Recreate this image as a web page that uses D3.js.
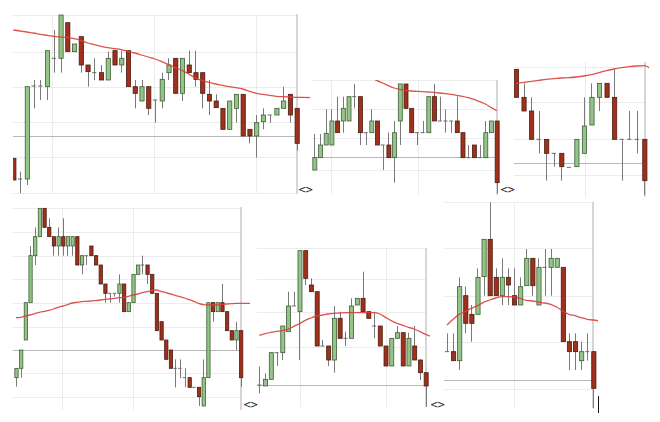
<!DOCTYPE html>
<html><head><meta charset="utf-8">
<script src="https://cdn.jsdelivr.net/npm/d3@7/dist/d3.min.js"></script>
<style>body{margin:0;background:#fff}svg{display:block}</style>
</head><body><svg id="c" width="660" height="422"></svg>
<script>
// Candles: [open, high, low, close]
const p1Candles = [[125,125,60,60],[63,85,20,63],[63,340,45,340],[342,360,275,342],[342,360,300,342],[340,448,300,448],[425,510,382,425],[425,555,382,555],[532,532,445,445],[445,468,445,468],[490,490,382,405],[405,405,340,385],[382,425,360,382],[382,405,360,360],[360,445,360,425],[448,448,405,405],[405,448,382,425],[448,448,340,340],[340,360,275,320],[297,360,297,340],[340,340,255,275],[300,300,232,300],[297,382,275,362],[382,425,360,405],[425,425,320,320],[320,425,297,425],[405,448,382,382],[382,448,340,362],[382,382,275,320],[317,360,255,297],[297,317,277,277],[275,275,212,212],[212,297,212,297],[275,317,232,317],[317,317,192,192],[212,212,170,192],[192,255,127,232],[235,275,212,255],[255,255,232,255],[255,275,255,275],[275,340,275,297],[317,317,232,255],[275,275,148,170]];
const p1MA = [510,507,504,501,497,494,491,489,487,484,479,471,466,461,457,454,451,446,441,435,429,423,415,406,397,389,378,366,358,353,348,344,340,337,333,326,320,317,314,311,310,309,308,308,307];
const p1Grid = [555,445,340,235,130,22];
const p1Ref = 192;
const p1VGrid = [5.73,20.85,35.97];

const p2Candles = [[270,378,270,307],[307,378,307,345],[345,452,345,380],[345,452,345,417],[417,490,382,382],[417,490,382,455],[417,490,417,490],[490,528,455,490],[490,490,345,382],[382,382,345,382],[382,452,382,417],[417,417,345,345],[345,345,270,345],[345,382,307,307],[307,417,232,382],[417,528,345,528],[528,528,455,455],[455,455,382,382],[382,382,345,382],[382,417,382,382],[382,490,382,490],[490,528,417,417],[417,490,417,417],[417,452,382,417],[417,417,382,417],[417,490,382,382],[382,382,307,307],[307,345,307,307],[345,345,307,307],[307,345,307,307],[307,417,307,382],[382,417,382,417],[417,417,200,232]];
const p2MA = [null,null,null,null,null,null,null,null,null,null,548,538,531,523,516,512,509,507,506,505,504,503,501,499,497,494,491,487,482,475,468,458,448];
const p2Grid = [540,452,365,270];
const p2Ref = 310;
const p2VGrid = [2.93,18.25];

const p3Candles = [[542,542,458,458],[458,500,417,417],[417,458,332,332],[332,417,290,332],[332,332,208,290],[290,290,250,290],[290,290,208,250],[248,248,248,248],[250,332,250,332],[290,458,290,372],[375,500,375,458],[458,500,417,500],[500,500,458,458],[458,542,332,332],[332,332,208,332],[332,417,332,332],[332,417,290,332],[332,332,165,208]];
const p3MA = [499,503,506,509,512,514,516,517,519,522,526,532,538,543,547,550,552,553,540];
const p3Grid = [550,445,332,225];
const p3Ref = 260;
const p3VGrid = [9.14];

const p4Candles = [[167,195,140,195],[195,250,167,250],[280,392,280,392],[392,562,392,533],[533,618,505,590],[590,675,590,675],[675,675,618,618],[618,645,590,590],[590,590,533,562],[562,618,533,590],[590,645,533,562],[562,590,533,590],[562,590,533,590],[590,590,505,505],[505,533,477,533],[533,533,505,533],[562,562,533,533],[533,533,505,505],[505,505,448,448],[448,448,392,420],[420,420,392,420],[420,420,410,420],[420,477,392,448],[448,448,365,365],[365,392,365,392],[392,477,392,477],[477,505,477,505],[505,533,477,505],[505,505,448,477],[477,477,420,420],[420,420,308,308],[335,335,280,280],[280,280,222,222],[250,250,195,195],[195,222,138,195],[195,222,165,195],[167,195,138,167],[167,167,138,138],[138,138,138,138],[138,138,82,110],[82,222,82,167],[167,392,167,392],[392,392,335,365],[365,392,365,392],[392,448,365,365],[365,365,308,308],[308,308,280,280],[280,335,250,308],[308,308,140,167]];
const p4MA = [347,348,352,355,359,363,366,369,373,378,382,386,391,393,395,396,397,398,400,402,403,405,407,408,411,415,418,422,425,428,430,426,422,418,414,410,406,401,396,390,386,385,385,385,387,388,389,390,390,390,390];
const p4Grid = [675,603,533,462,392,320,180,110];
const p4Ref = 250;
const p4VGrid = [9.9,25.07];

const p5Candles = [[135,190,110,135],[132,170,132,152],[152,232,152,232],[232,232,192,232],[232,312,210,312],[295,415,295,372],[372,415,372,372],[355,538,210,538],[538,538,435,455],[435,455,415,415],[415,415,252,252],[252,270,252,252],[252,252,192,210],[210,372,172,335],[335,355,275,275],[275,295,252,275],[275,395,275,372],[375,395,375,395],[395,475,355,355],[355,355,335,335],[312,355,275,312],[312,312,252,252],[252,252,192,192],[192,275,192,275],[275,312,275,292],[292,292,192,192],[192,292,192,275],[252,312,210,210],[210,212,150,172],[172,172,70,132]];
const p5MA = [284,289,293,296,298,302,311,319,329,336,342,345,348,350,351,352,352,352,352,352,352,348,338,328,320,314,308,303,295,287,280];
const p5Grid = [545,452,355,250];
const p5Ref = 135;
const p5VGrid = [7.09,22.03];

const p6Candles = [[230,285,230,230],[230,285,203,203],[203,453,175,425],[398,425,285,315],[342,370,260,315],[342,480,342,453],[455,567,398,567],[567,678,398,398],[453,480,398,398],[398,510,370,453],[453,480,370,430],[398,480,370,370],[370,453,370,425],[428,538,428,510],[510,510,398,428],[370,510,370,483],[483,538,398,483],[483,538,398,510],[483,510,483,510],[483,483,260,260],[260,285,175,230],[260,285,175,230],[203,260,175,230],[230,285,203,230],[230,230,60,120]];
const p6MA = [310,327,342,351,360,368,378,385,391,395,395,394,390,384,382,379,376,372,364,352,342,338,332,327,325,322];
const p6Grid = [680,540,397,260,118];
const p6Ref = 145;
const p6VGrid = [10.99];

const panels = [
  {c:p1Candles, ma:p1MA, grid:p1Grid, ref:p1Ref, vg:p1VGrid, x0:13.33, x1:296.67, left:13, right:297, top:14, bottom:194, v0:18, v1:558, maRight:311},
  {c:p2Candles, ma:p2MA, grid:p2Grid, ref:p2Ref, vg:p2VGrid, x0:314.33, x1:496.67, left:312, right:497, top:80, bottom:195, v0:195, v1:540, maRight:500},
  {c:p3Candles, ma:p3MA, grid:p3Grid, ref:p3Ref, vg:p3VGrid, x0:516, x1:644.33, left:514, right:645, top:62, bottom:197, v0:159, v1:564, maRight:649},
  {c:p4Candles, ma:p4MA, grid:p4Grid, ref:p4Ref, vg:p4VGrid, x0:16, x1:240.67, left:13, right:241, top:207, bottom:410, v0:70, v1:679, maRight:250},
  {c:p5Candles, ma:p5MA, grid:p5Grid, ref:p5Ref, vg:p5VGrid, x0:259.33, x1:425.67, left:257, right:426, top:248, bottom:407, v0:69, v1:546, maRight:430},
  {c:p6Candles, ma:p6MA, grid:p6Grid, ref:p6Ref, vg:p6VGrid, x0:447, x1:593.33, left:444, right:593, top:202, bottom:408, v0:61, v1:679, maRight:598}
];
const navMarks = [[305,193],[507,193],[250,408],[437,408]];

const svg = d3.select('#c');
svg.append('rect').attr('width',660).attr('height',422).attr('fill','#fff');

panels.forEach((p, k) => {
  const n = p.c.length;
  const x = d3.scaleLinear().domain([0, n-1]).range([p.x0, p.x1]);
  const y = d3.scaleLinear().domain([p.v0, p.v1]).range([p.bottom, p.top]);
  const step = (p.x1 - p.x0) / (n-1);
  const w = Math.min(4.2, step*0.7);
  const g = svg.append('g');
  const defs = svg.append('defs');
  defs.append('clipPath').attr('id','cc'+k).append('rect')
    .attr('x',p.left).attr('y',p.top-1).attr('width',p.right-p.left+w).attr('height',p.bottom-p.top+2);
  defs.append('clipPath').attr('id','mc'+k).append('rect')
    .attr('x',p.left).attr('y',p.top).attr('width',p.maRight-p.left).attr('height',p.bottom-p.top);

  // horizontal grid
  g.selectAll('.hg').data(p.grid).join('line')
    .attr('x1',p.left).attr('x2',p.right)
    .attr('y1',d=>Math.round(y(d))+0.5).attr('y2',d=>Math.round(y(d))+0.5)
    .attr('stroke','#ececec').attr('stroke-width',1);
  // vertical grid
  g.selectAll('.vg').data(p.vg).join('line')
    .attr('x1',d=>Math.round(x(d))+0.5).attr('x2',d=>Math.round(x(d))+0.5)
    .attr('y1',p.top).attr('y2',p.bottom)
    .attr('stroke','#ececec').attr('stroke-width',1);
  // reference line
  g.append('line').attr('x1',p.left).attr('x2',p.right)
    .attr('y1',Math.round(y(p.ref))+0.5).attr('y2',Math.round(y(p.ref))+0.5)
    .attr('stroke','#b8b8b8').attr('stroke-width',1);
  // right border
  g.append('line').attr('x1',p.right).attr('x2',p.right)
    .attr('y1',p.top).attr('y2',p.bottom)
    .attr('stroke','#c8c8c8').attr('stroke-width',1.5);

  const cg = g.append('g').attr('clip-path','url(#cc'+k+')');
  const cs = cg.selectAll('g.cd').data(p.c).join('g');
  cs.append('line')
    .attr('x1',(d,i)=>Math.round(x(i))+0.5).attr('x2',(d,i)=>Math.round(x(i))+0.5)
    .attr('y1',d=>y(d[1])).attr('y2',d=>y(d[2]))
    .attr('stroke','#7a7a7a').attr('stroke-width',1);
  cs.filter(d=>d[0]===d[3]).append('line')
    .attr('x1',(d,i)=>x(p.c.indexOf(d))-w/2).attr('x2',(d,i)=>x(p.c.indexOf(d))+w/2)
    .attr('y1',d=>y(d[0])).attr('y2',d=>y(d[0]))
    .attr('stroke','#6a6a6a').attr('stroke-width',1);
  cs.each(function(d,i){
    if (d[0]===d[3]) return;
    const up = d[3] > d[0];
    d3.select(this).append('rect')
      .attr('x', x(i)-w/2+0.5).attr('width', w)
      .attr('y', y(Math.max(d[0],d[3]))).attr('height', Math.abs(y(d[0])-y(d[3])))
      .attr('fill', up ? '#93c488' : '#a0301c')
      .attr('stroke', up ? '#3f5e37' : '#4a1d12').attr('stroke-width',0.8);
  });

  // moving average
  const line = d3.line().defined(d=>d!=null).x((d,i)=>x(i)).y(d=>y(d)).curve(d3.curveMonotoneX);
  g.append('path').datum(p.ma).attr('clip-path','url(#mc'+k+')')
    .attr('d', line).attr('fill','none').attr('stroke','#d9403a').attr('stroke-width',1.3).attr('stroke-opacity',0.9);
});

svg.selectAll('text.nav').data(navMarks).join('text')
  .attr('x',d=>d[0]).attr('y',d=>d[1]).attr('text-anchor','middle')
  .attr('font-family','DejaVu Sans, sans-serif').attr('font-size',10).attr('fill','#222')
  .attr('letter-spacing',-1.5).text('<>');

svg.append('line').attr('x1',598.5).attr('x2',598.5).attr('y1',396).attr('y2',413)
  .attr('stroke','#111').attr('stroke-width',1);
</script></body></html>
